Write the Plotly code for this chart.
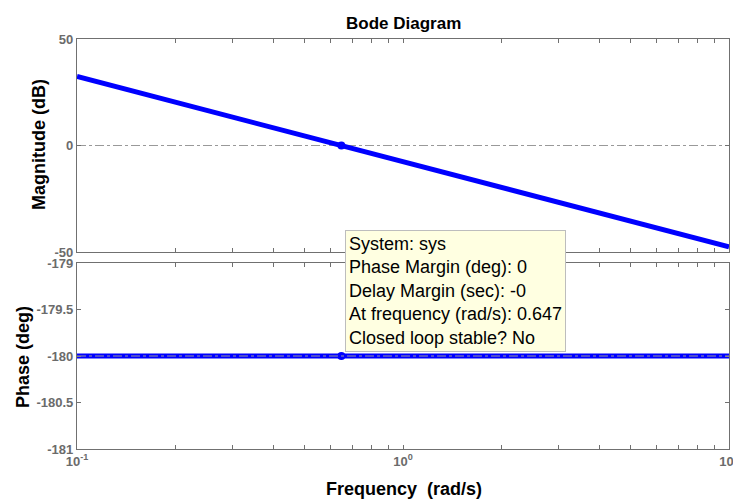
import plotly.graph_objects as go

# Frequencies (rad/s) and values
freq = [0.1, 0.2, 0.3, 0.5, 0.647, 1.0, 2.0, 3.0, 5.0, 10.0]
mag_db = [32.4, 20.4, 13.3, 4.5, 0.0, -7.6, -19.6, -26.6, -35.6, -47.6]
phase_deg = [-180, -180, -180, -180, -180, -180, -180, -180, -180, -180]

wc = [0.647]
mag_at_wc = [0.0]
phase_at_wc = [-180.0]

mag_ticks = [-50, 0, 50]
mag_ticktext = ["-50", "0", "50"]
phase_ticks = [-181, -180.5, -180, -179.5, -179]
phase_ticktext = ["-181", "-180.5", "-180", "-179.5", "-179"]

x_major = [0.1, 1, 10]
x_major_text = ["10<sup>-1</sup>", "10<sup>0</sup>", "10<sup>1</sup>"]
x_minor = [m * d for d in (0.1, 1) for m in range(2, 10)]

tip_lines = ["System: sys", "Phase Margin (deg): 0", "Delay Margin (sec): -0",
             "At frequency (rad/s): 0.647", "Closed loop stable? No"]

W, H = 733, 501
L, R, T, B = 77, 4, 39, 52
plot_h = H - T - B
plot_w = W - L - R

def py(ypx):
    return (H - B - ypx) / plot_h

def px(xpx):
    return (xpx - L) / plot_w

blue = "#0000ff"
axis_gray = "#707070"
tick_font = dict(family="Liberation Sans", size=13, color="#6b6b6b", weight="bold")

fig = go.Figure()
fig.add_trace(go.Scatter(x=freq, y=mag_db, mode="lines", line=dict(color=blue, width=5),
                         xaxis="x", yaxis="y", hoverinfo="skip"))
fig.add_trace(go.Scatter(x=freq, y=phase_deg, mode="lines", line=dict(color=blue, width=5),
                         xaxis="x2", yaxis="y2", hoverinfo="skip"))
fig.add_trace(go.Scatter(x=wc, y=mag_at_wc, mode="markers", marker=dict(color=blue, size=8),
                         xaxis="x", yaxis="y", hoverinfo="skip"))
fig.add_trace(go.Scatter(x=wc, y=phase_at_wc, mode="markers", marker=dict(color=blue, size=8),
                         xaxis="x2", yaxis="y2", hoverinfo="skip"))

# reference lines (dash-dot)
fig.add_shape(type="line", xref="x", yref="y", x0=0.1, x1=10, y0=0, y1=0,
              line=dict(color="#999999", width=1.2, dash="dashdot"), layer="below")
fig.add_shape(type="line", xref="x2", yref="y2", x0=0.1, x1=10, y0=-180, y1=-180,
              line=dict(color="#999999", width=1.2, dash="dashdot"), layer="above")

xcommon = dict(type="log", range=[-1, 1], showline=True, linecolor=axis_gray, linewidth=1.3,
               mirror="ticks", ticks="inside", ticklen=4, tickcolor=axis_gray,
               showgrid=False, zeroline=False, tickfont=tick_font, automargin=False,
               tickvals=x_major + x_minor, ticklabeloverflow="allow")
ycommon = dict(showline=True, linecolor=axis_gray, linewidth=1.3, mirror="ticks",
               ticks="inside", ticklen=4, tickcolor=axis_gray, showgrid=False,
               zeroline=False, tickfont=tick_font, ticklabeloverflow="allow",
               automargin=False)
fig.update_layout(
    width=W, height=H, margin=dict(l=L, r=R, t=T, b=B, autoexpand=False),
    paper_bgcolor="white", plot_bgcolor="white", showlegend=False,
    xaxis=dict(**xcommon, anchor="y", showticklabels=False,
               ticktext=[""] * (len(x_major) + len(x_minor)), matches="x2"),
    xaxis2=dict(**xcommon, anchor="y2",
                ticktext=x_major_text + [""] * len(x_minor)),
    yaxis=dict(**ycommon, domain=[py(252), 1], range=[-50, 50], tickvals=mag_ticks,
               ticktext=mag_ticktext),
    yaxis2=dict(**ycommon, domain=[0, py(263)], range=[-181, -179], tickvals=phase_ticks,
                ticktext=phase_ticktext),
)

bold = dict(family="Liberation Sans", size=18, color="black")
fig.add_annotation(text="<b>Bode Diagram</b>", xref="paper", yref="paper",
                   x=px(403), y=py(24), xanchor="center", yanchor="middle",
                   showarrow=False, font=dict(family="Liberation Sans", size=17, color="black"))
fig.add_annotation(text="<b>Frequency  (rad/s)</b>", xref="paper", yref="paper",
                   x=px(404), y=py(489), xanchor="center", yanchor="middle",
                   showarrow=False, font=bold)
fig.add_annotation(text="<b>Magnitude (dB)</b>", xref="paper", yref="paper",
                   x=px(39), y=py(145), xanchor="center", yanchor="middle",
                   showarrow=False, textangle=-90, font=bold)
fig.add_annotation(text="<b>Phase (deg)</b>", xref="paper", yref="paper",
                   x=px(23), y=py(357), xanchor="center", yanchor="middle",
                   showarrow=False, textangle=-90, font=bold)

fig.add_annotation(text="<br>".join(tip_lines), xref="paper", yref="paper",
                   x=px(345), y=py(230), xanchor="left", yanchor="top", align="left",
                   showarrow=False, bgcolor="#ffffe1", bordercolor="#bdbdbd", borderwidth=1,
                   borderpad=3, font=dict(family="Liberation Sans", size=18, color="black"))

fig.write_html("out.html")
